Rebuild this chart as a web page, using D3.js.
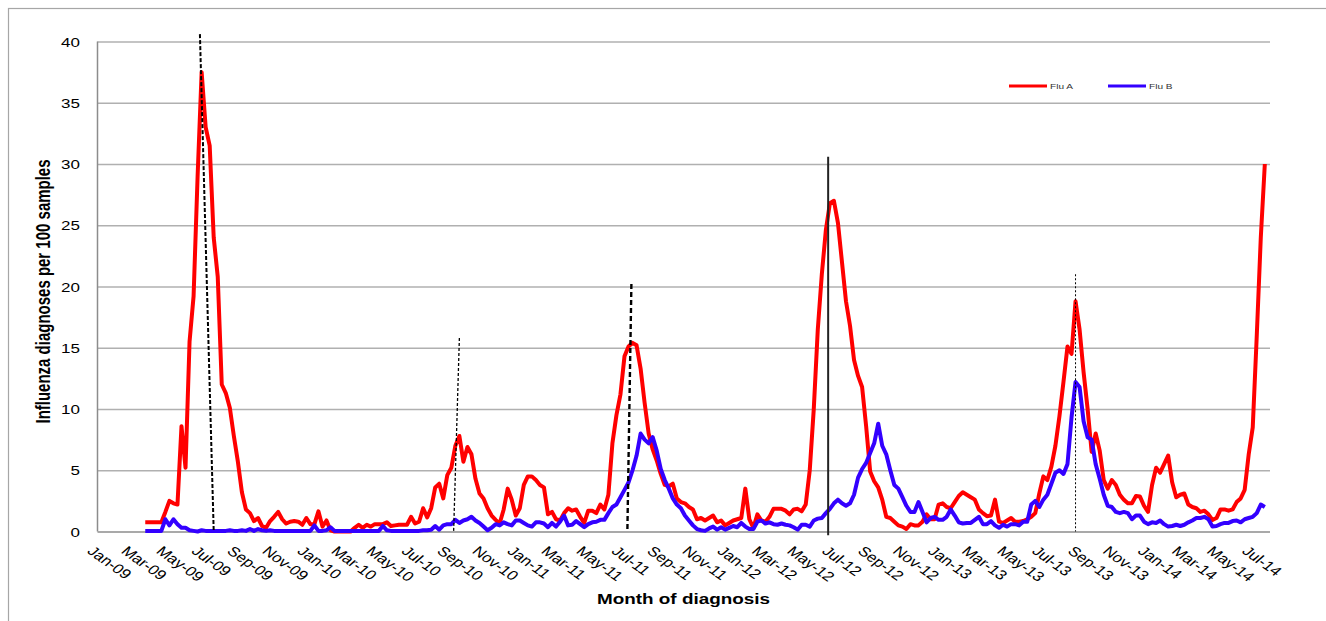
<!DOCTYPE html>
<html>
<head>
<meta charset="utf-8">
<script src="https://cdn.jsdelivr.net/npm/d3@7"></script>
<style>
  body { margin: 0; background: #fff; }
  svg { display: block; font-family: "Liberation Sans", Arial, sans-serif; }
</style>
</head>
<body>
<svg id="chart" width="1326" height="621"></svg>
<script>
// weekly samples, first week starting 25 Mar 2009
const weekStart = new Date(2009, 2, 25);

const fluA = [
  0.76,0.76,0.76,0.76,0.76, 1.6,2.5,2.3,2.2,8.6, 5.2,15.5,19.2,29,37.5, 33,31.5,24,20.8,12.0,
  11.3,10.1,7.8,5.7,3.2, 1.8,1.5,0.85,1.1,0.45, 0.3,0.85,1.2,1.6,1.0, 0.65,0.8,0.85,0.8,0.55,
  1.1,0.6,0.6,1.65,0.4, 0.9,0.1,0,0,0, 0,0,0.3,0.55,0.3, 0.55,0.4,0.6,0.6,0.6,
  0.75,0.45,0.5,0.55,0.55, 0.55,1.2,0.65,0.8,1.9, 1.15,1.9,3.6,3.9,2.7, 4.6,5.2,7.0,7.8,5.7,
  6.9,6.3,4.3,3.1,2.7, 1.9,1.3,0.95,0.65,1.8, 3.5,2.6,1.3,1.9,3.8, 4.5,4.5,4.2,3.8,3.6,
  1.4,1.6,1.0,0.9,1.5, 1.9,1.7,1.8,1.2,0.7, 1.7,1.7,1.5,2.2,1.8, 3.0,7.2,9.5,11.2,14.3,
  15.1,15.4,15.2,13.3,10.5, 8.0,6.7,5.8,4.7,3.8, 3.7,3.9,2.7,2.4,2.3, 2.0,1.8,1.0,
  1.1,0.9,1.1,1.3,0.75, 0.9,0.5,0.7,0.9,1.0, 1.1,3.5,1.0,0.3,1.4, 0.9,0.8,1.2,1.85,1.85,
  1.85,1.7,1.4,1.8,1.85, 1.65,2.2,5.0,10.0,16.5, 21.0,24.6,26.8,27.0,25.2, 22.0,18.8,16.8,14.0,12.7,
  11.8,8.6,4.9,4.1,3.6, 2.6,1.2,1.1,0.8,0.5, 0.4,0.2,0.6,0.5,0.5, 0.8,1.4,1.0,1.0,2.2,
  2.3,2.0,1.9,2.4,2.9, 3.2,3.0,2.8,2.6,1.8, 1.5,1.25,1.3,2.6,0.8,
  0.7,0.9,1.1,0.8,0.8, 0.85,1.0,1.2,1.5,3.1, 4.5,4.2,5.3,7.0,9.4, 12.2,15.1,14.5,18.8,16.5,
  13.0,10.0,6.5,8.0,6.6, 4.2,3.5,4.2,3.8,3.0, 2.6,2.3,2.3,2.9,2.85, 2.1,1.6,3.8,5.2,4.8,
  5.5,6.2,4.0,2.8,3.0, 3.1,2.2,2.0,1.9,1.6, 1.7,1.4,0.95,1.1,1.8, 1.8,1.7,1.8,2.4,2.7,
  3.4,6.3,8.5,16,24,30
];

const fluB = [
  0.05,0.05,0.05,0.05,0.05, 1.0,0.5,1.0,0.6,0.3, 0.3,0.1,0.05,0,0.1, 0.05,0.05,0.05,0.05,0.05,
  0.05,0.1,0.05,0.05,0.1, 0.05,0.2,0.05,0.2,0.1, 0.05,0.1,0.05,0.05,0.05, 0.05,0.05,0.05,0.05,0.05,
  0.05,0.05,0.5,0.05,0.05, 0.1,0.35,0.05,0.05,0.05, 0.05,0.05,0.05,0.05,0.05, 0.05,0.05,0.05,0.05,0.45,
  0.1,0.05,0.05,0.05,0.05, 0.05,0.05,0.05,0.05,0.1, 0.1,0.15,0.45,0.15,0.5, 0.6,0.6,0.95,0.7,0.9,
  1.0,1.2,0.9,0.7,0.4, 0.1,0.3,0.6,0.5,0.75, 0.6,0.5,0.9,0.9,0.7, 0.5,0.4,0.75,0.75,0.65,
  0.35,0.7,0.4,0.8,1.3, 0.5,0.55,0.85,0.6,0.35, 0.6,0.75,0.8,0.95,0.95, 1.5,2.0,2.2,2.8,3.4,
  4.0,5.0,6.2,8.0,7.5, 7.2,7.7,6.6,5.1,4.2, 3.5,2.7,2.2,1.9,1.3, 0.9,0.5,0.2,
  0.1,0.05,0.25,0.4,0.15, 0.35,0.15,0.3,0.45,0.35, 0.7,0.4,0.2,0.2,0.8, 0.9,0.65,0.75,0.6,0.55,
  0.65,0.55,0.5,0.35,0.15, 0.55,0.55,0.4,0.9,1.05, 1.1,1.5,1.85,2.3,2.6, 2.3,2.1,2.3,3.0,4.4,
  5.1,5.6,6.4,7.2,8.8, 7.0,6.3,5.0,3.8,3.5, 2.8,2.1,1.6,1.6,2.4, 1.6,0.75,1.1,1.2,0.95,
  0.95,1.2,1.8,1.3,0.75, 0.65,0.7,0.7,0.95,1.2, 0.6,0.6,0.85,0.5,0.3,
  0.55,0.4,0.6,0.6,0.5, 0.8,0.8,2.2,2.5,2.0, 2.6,3.0,3.9,4.8,5.0, 4.7,5.5,9.3,12.2,11.8,
  9.0,7.7,7.5,5.5,4.3, 3.0,2.1,2.0,1.6,1.5, 1.6,1.5,1.0,1.3,1.3, 0.8,0.6,0.75,0.7,0.9,
  0.6,0.4,0.45,0.55,0.45, 0.55,0.75,0.9,1.1,1.1, 1.2,1.0,0.4,0.45,0.6, 0.7,0.7,0.85,0.9,0.75,
  1.0,1.1,1.2,1.5,2.2,2.0
];

const seriesNames = ["Flu A", "Flu B"];
const yTicks = [0, 5, 10, 15, 20, 25, 30, 35, 40];

// vertical reference lines drawn over the chart (date, value at each end)
const markerTopDate = ["2009-06-28", "2010-09-22", "2011-07-18", "2012-06-24", "2013-08-28"];
const markerBottomDate = ["2009-07-22", "2010-09-12", "2011-07-11", "2012-06-24", "2013-08-28"];
const markerTopValue = [40.6, 15.8, 20.2, 30.6, 21.0];
const markerBottomValue = [0, 0, 0, -0.3, 0];

const colors = ["#ff0000", "#3300ff"];
const sx = 1.26; // the original figure is stretched horizontally

const svg = d3.select("#chart");
const plotLeft = 97.5, plotRight = 1270, plotTop = 41.5, plotBottom = 531.5;

const x = d3.scaleTime()
  .domain([new Date(2009, 0, 1), new Date(2014, 7, 1)])
  .range([plotLeft, plotRight]);
const y = d3.scaleLinear().domain([0, 40]).range([plotBottom, plotTop]);

// chart frame
svg.append("rect")
  .attr("x", 8.5).attr("y", 8.5)
  .attr("width", 1400).attr("height", 700)
  .attr("fill", "none").attr("stroke", "#a6a6a6").attr("stroke-width", 1.2);

// y axis with gridlines
const yAxis = svg.append("g")
  .attr("transform", "translate(" + plotLeft + ",0)")
  .call(d3.axisLeft(y).tickValues(yTicks).tickSize(-(plotRight - plotLeft)).tickFormat(d3.format("d")));
yAxis.select(".domain").remove();
yAxis.selectAll("line")
  .attr("stroke", d => d === 0 ? "#8c8c8c" : "#b0b0b0")
  .attr("stroke-width", 1.5);
yAxis.selectAll("text")
  .attr("x", null).attr("dy", "0.35em")
  .attr("transform", "translate(-17.5,0) scale(" + sx + ",1)")
  .attr("text-anchor", "end")
  .attr("font-family", "Liberation Sans, Arial, sans-serif")
  .attr("font-size", 13.5).attr("fill", "#000");

svg.append("line")
  .attr("x1", plotLeft).attr("x2", plotLeft).attr("y1", plotTop).attr("y2", plotBottom)
  .attr("stroke", "#8c8c8c").attr("stroke-width", 1.5);

// x axis labels, every two months
const xTicks = x.ticks(d3.timeMonth.every(2));
const fmt = d3.timeFormat("%b-%y");
svg.append("g").selectAll("text")
  .data(xTicks)
  .join("text")
  .attr("transform", d => "translate(" + (x(d) - 3) + ",545) scale(" + sx + ",1) rotate(42)")
  .attr("dy", "0.72em")
  .attr("font-size", 13.5)
  .attr("fill", "#000")
  .text(d => fmt(d));

// series
const dates = fluA.map((v, i) => d3.timeDay.offset(weekStart, 7 * i));
const line = d3.line()
  .x((d, i) => x(dates[i]))
  .y(d => y(d));

[fluA, fluB].forEach((s, k) => {
  svg.append("path")
    .datum(s)
    .attr("fill", "none")
    .attr("stroke", colors[k])
    .attr("stroke-width", 4)
    .attr("stroke-linejoin", "round")
    .attr("d", line);
});

// reference lines
const parse = d3.timeParse("%Y-%m-%d");
const dashes = ["4,2", "3,2", "5,3", null, "2,2"];
const widths = [2, 1.3, 2.4, 2, 1];
markerTopDate.forEach((d, i) => {
  svg.append("line")
    .attr("x1", x(parse(d))).attr("y1", y(markerTopValue[i]))
    .attr("x2", x(parse(markerBottomDate[i]))).attr("y2", y(markerBottomValue[i]))
    .attr("stroke", i === 3 ? "#222" : "#000")
    .attr("stroke-width", widths[i])
    .attr("stroke-dasharray", dashes[i]);
});

// legend
const legend = svg.append("g");
seriesNames.forEach((name, i) => {
  const lx = 1009 + i * 99;
  legend.append("line")
    .attr("x1", lx).attr("x2", lx + 38).attr("y1", 86).attr("y2", 86)
    .attr("stroke", colors[i]).attr("stroke-width", 3);
  legend.append("text")
    .attr("transform", "translate(" + (lx + 41) + ",89) scale(" + sx + ",1)")
    .attr("font-size", 8)
    .attr("fill", "#333")
    .text(name);
});

// axis titles
svg.append("text")
  .attr("transform", "translate(683.5,603.5) scale(" + sx + ",1)")
  .attr("text-anchor", "middle")
  .attr("font-size", 15).attr("font-weight", "bold")
  .text("Month of diagnosis");

svg.append("text")
  .attr("transform", "translate(50,291.5) scale(1.4,1) rotate(-90)")
  .attr("text-anchor", "middle")
  .attr("font-size", 15).attr("font-weight", "bold")
  .text("Influenza diagnoses per 100 samples");
</script>
</body>
</html>
